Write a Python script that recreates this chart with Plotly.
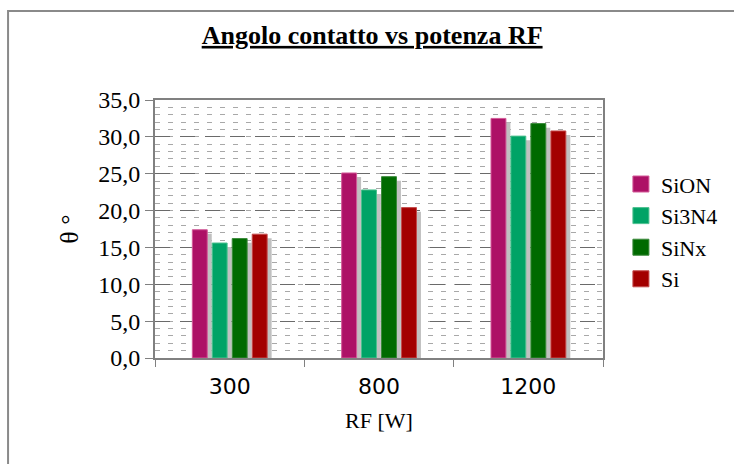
import plotly.graph_objects as go

categories = ["300", "800", "1200"]
series_names = ["SiON", "Si3N4", "SiNx", "Si"]
sion = [17.4, 25.1, 32.5]
si3n4 = [15.6, 22.8, 30.1]
sinx = [16.2, 24.6, 31.8]
si = [16.8, 20.4, 30.8]
y_ticks = [0, 5, 10, 15, 20, 25, 30, 35]
y_tick_labels = ["0,0", "5,0", "10,0", "15,0", "20,0", "25,0", "30,0", "35,0"]

values = [sion, si3n4, sinx, si]
colors = ["#AD1166", "#00A366", "#006A00", "#A30000"]
edge_colors = ["#D35A98", "#4CC08F", "#3A8A3A", "#C44A4A"]
offsets = [-0.25, -0.117, 0.017, 0.151]
bar_w = 0.1
SERIF = "Liberation Serif"

fig = go.Figure()

# shadows
for v, off in zip(values, offsets):
    fig.add_trace(go.Bar(
        x=categories, y=[max(t - 0.55, 0) for t in v], offset=off + 0.03, width=bar_w,
        marker=dict(color="#C0C0C0", line=dict(width=0)), showlegend=False, hoverinfo="skip"))

for name, v, off, c, ec in zip(series_names, values, offsets, colors, edge_colors):
    fig.add_trace(go.Bar(
        x=categories, y=v, offset=off, width=bar_w, name=name,
        marker=dict(color=c, line=dict(color=ec, width=1)), showlegend=False))
    fig.add_trace(go.Scatter(
        x=[None], y=[None], mode="markers", name=name,
        marker=dict(symbol="square", size=16, color=c, line=dict(color=ec, width=1))))

fig.update_layout(
    width=734, height=464,
    margin=dict(l=155, r=131, t=100, b=106, autoexpand=False),
    paper_bgcolor="white", plot_bgcolor="white",
    barmode="overlay",
    title=dict(text="Angolo contatto vs potenza RF", x=0.507, xanchor="center",
               y=0.925, yanchor="middle",
               font=dict(family=SERIF, size=26, color="black", weight="bold", lineposition="under")),
    legend=dict(x=1.04, y=0.755, xanchor="left", yanchor="top",
                font=dict(family=SERIF, size=22, color="black"),
                tracegroupgap=0, itemsizing="trace", bgcolor="rgba(0,0,0,0)"),
    showlegend=True,
)

fig.update_xaxes(
    type="category", tickson="boundaries", ticks="outside", ticklen=7, tickcolor="#808080",
    tickfont=dict(family="DejaVu Sans", size=22, color="black"),
    showline=True, linecolor="#808080", linewidth=2, mirror=True, showgrid=False,
    title=dict(text="RF [W]", font=dict(family=SERIF, size=22, color="black"), standoff=14),
    range=[-0.5, 2.5], ticklabelstandoff=8,
)

fig.update_yaxes(
    range=[0, 35], tickvals=y_ticks, ticktext=y_tick_labels, ticks="outside", ticklen=8,
    tickcolor="#808080",
    tickfont=dict(family=SERIF, size=24, color="black"),
    showline=True, linecolor="#808080", linewidth=2, mirror=True,
    showgrid=True, gridcolor="#6A6A6A", griddash="15px,10px", gridwidth=1,
    minor=dict(dtick=1, showgrid=True, gridcolor="#A8A8A8", griddash="5px,8px", gridwidth=1),
    zeroline=False,
    title=dict(text="θ °", font=dict(family=SERIF, size=26, color="black"), standoff=12),
)

# outer frame
fig.add_shape(type="rect", xref="paper", yref="paper",
              x0=-0.328, x1=1.33, y0=-0.45, y1=1.345,
              line=dict(color="#8A8A8A", width=2), fillcolor="rgba(0,0,0,0)", layer="below")

fig.write_html("out.html")
